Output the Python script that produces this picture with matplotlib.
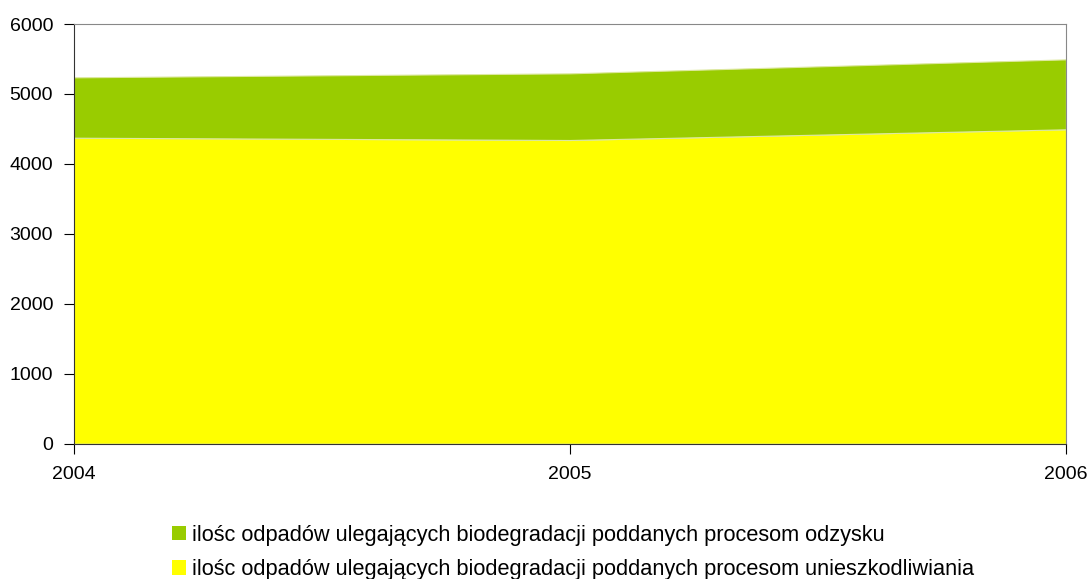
import matplotlib.pyplot as plt
from matplotlib.patches import Patch

plt.rcParams['font.family'] = ['Liberation Sans', 'DejaVu Sans']

# Dane
lata = [2004, 2005, 2006]
unieszkodliwianie = [4375, 4342, 4495]
odzysk = [863, 953, 1000]
etykiety = ['ilośc odpadów ulegających biodegradacji poddanych procesom odzysku',
            'ilośc odpadów ulegających biodegradacji poddanych procesom unieszkodliwiania']
kolory = ['#99cc00', '#ffff00']

fig = plt.figure(figsize=(10.91, 5.79), dpi=100)
ax = fig.add_axes([0.0678, 0.2337, 0.9092, 0.7248])

ax.stackplot(lata, unieszkodliwianie, odzysk, colors=[kolory[1], kolory[0]],
             edgecolor='#dde8a0', linewidth=0.8)

ax.set_xlim(2004, 2006)
ax.set_ylim(0, 6000)
ax.set_xticks(lata)
ax.set_yticks(range(0, 6001, 1000))

for s in ['top', 'right']:
    ax.spines[s].set_color('#888888')
for s in ['left', 'bottom']:
    ax.spines[s].set_color('#333333')
ax.tick_params(axis='y', length=7, pad=8, labelsize=14)
ax.tick_params(axis='x', length=7, pad=9, labelsize=14)

uchwyty = [Patch(facecolor=kolory[0]), Patch(facecolor=kolory[1])]
fig.legend(uchwyty, etykiety, loc='upper left', bbox_to_anchor=(0.1577, 0.094),
           frameon=False, fontsize=15.7, handlelength=0.65, handleheight=0.65,
           handletextpad=0.28, labelspacing=0.62, borderpad=0, borderaxespad=0)

fig.savefig('out.png', dpi=100)
